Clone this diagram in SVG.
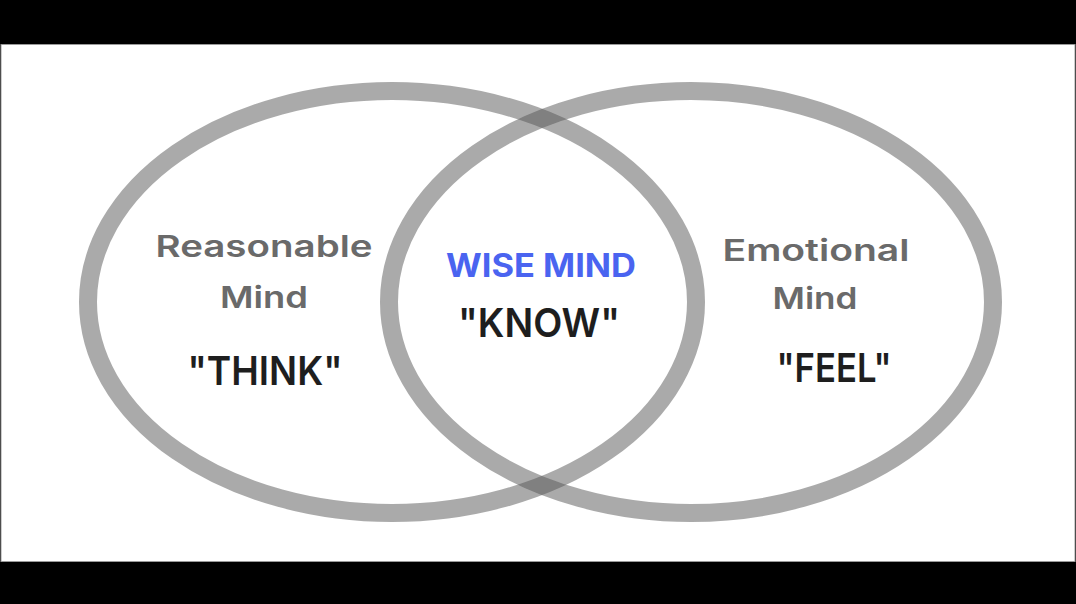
<svg xmlns="http://www.w3.org/2000/svg" width="1076" height="604" viewBox="0 0 1076 604">
  <style>
    .ring { fill: none; stroke: #555555; stroke-opacity: 0.5; stroke-width: 18; }
    .lbl { font-family: Inter, "Liberation Sans", sans-serif; font-weight: 600; fill: #6a6a6a; font-size: 30px; text-anchor: middle; }
    .verb { font-family: Inter, "Liberation Sans", sans-serif; font-weight: 600; fill: #1e1e1e; font-size: 40px; text-anchor: middle; }
    .wise { font-family: Inter, "Liberation Sans", sans-serif; font-weight: 700; fill: #4a64f0; font-size: 32px; text-anchor: middle; }
  </style>
  <rect x="0" y="0" width="1076" height="604" fill="#000000"/>
  <rect x="1" y="44.5" width="1074" height="517" fill="#ffffff" stroke="#9a9a9a" stroke-width="1"/>
  <g id="connectors"></g>
  <g id="reasonable-mind">
    <ellipse class="ring" cx="392" cy="302" rx="304" ry="211"/>
    <text class="lbl" x="264" y="257" textLength="217" lengthAdjust="spacingAndGlyphs">Reasonable</text>
    <text class="lbl" x="264" y="308" textLength="88" lengthAdjust="spacingAndGlyphs">Mind</text>
    <text class="verb" x="265" y="385" textLength="155" lengthAdjust="spacingAndGlyphs">"THINK"</text>
  </g>
  <g id="emotional-mind">
    <ellipse class="ring" cx="691" cy="302" rx="302" ry="211"/>
    <text class="lbl" x="816" y="261" textLength="187" lengthAdjust="spacingAndGlyphs">Emotional</text>
    <text class="lbl" x="815" y="309" textLength="85" lengthAdjust="spacingAndGlyphs">Mind</text>
    <text class="verb" x="834" y="382" textLength="115" lengthAdjust="spacingAndGlyphs">"FEEL"</text>
  </g>
  <g id="wise-mind">
    <text class="wise" x="541" y="277" textLength="190" lengthAdjust="spacingAndGlyphs">WISE MIND</text>
    <text class="verb" x="539" y="337" textLength="162" lengthAdjust="spacingAndGlyphs">"KNOW"</text>
  </g>
</svg>
